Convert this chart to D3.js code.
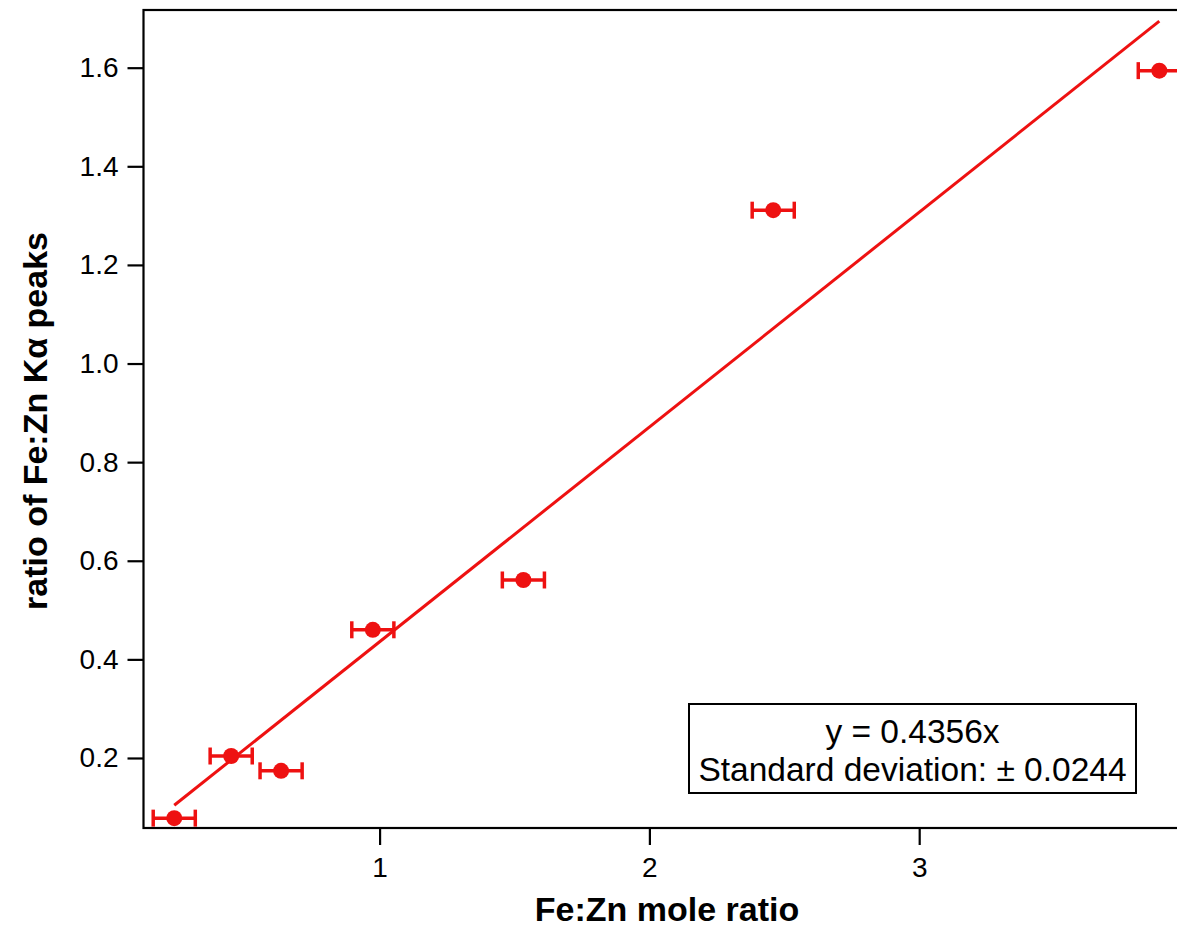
<html>
<head>
<script src="https://cdn.jsdelivr.net/npm/d3@7"></script>
<style type="text/css">
    body{ margin: 0; background: #fff }
    svg{ font-family: Arial, "Liberation Sans", sans-serif }
    .tick text{ font-size: 28px; fill: #000 }
    .axis-title{ font-size: 34px; font-weight: bold }
</style>
</head>

<body>
<script type="text/javascript">
var width = 1177,
    height = 928;

// Fe:Zn mole ratio, measured peak ratio, x error
var moleRatio = [0.239, 0.450, 0.635, 0.975, 1.533, 2.459, 3.890];
var peakRatio = [0.078, 0.204, 0.174, 0.460, 0.561, 1.311, 1.594];
var moleErr   = [0.078, 0.078, 0.078, 0.078, 0.078, 0.078, 0.078];

var xTicks = [1, 2, 3];
var yTicks = [0.2, 0.4, 0.6, 0.8, 1.0, 1.2, 1.4, 1.6];

var slope = 0.4356;
var legendLines = ['y = 0.4356x', 'Standard deviation: \u00b1 0.0244'];

var red = '#ee1111';

var x = d3.scaleLinear().domain([0.125, 4.0]).range([143.5, 1189]);
var y = d3.scaleLinear().domain([0.058, 1.717]).range([828, 10]);

var svg = d3.select('body')
    .append('svg')
        .attr('width', width)
        .attr('height', height);

// frame
svg.append('rect')
    .attr('x', x.range()[0])
    .attr('y', y.range()[1])
    .attr('width', x.range()[1] - x.range()[0])
    .attr('height', y.range()[0] - y.range()[1])
    .attr('fill', 'none')
    .attr('stroke', '#000')
    .attr('stroke-width', 2.2);

var xAxis = svg.append('g')
    .attr('transform', 'translate(0,' + y.range()[0] + ')')
    .call(d3.axisBottom(x).tickValues(xTicks).tickFormat(d3.format('d')).tickSize(17).tickPadding(12));

var yAxis = svg.append('g')
    .attr('transform', 'translate(' + x.range()[0] + ',0)')
    .call(d3.axisLeft(y).tickValues(yTicks).tickFormat(d3.format('.1f')).tickSize(16).tickPadding(9));

[xAxis, yAxis].forEach(function(a){
    a.select('.domain').remove();
    a.selectAll('.tick line').attr('stroke', '#000').attr('stroke-width', 2.2);
});

svg.append('text')
    .attr('class', 'axis-title')
    .attr('x', 667)
    .attr('y', 921)
    .attr('text-anchor', 'middle')
    .text('Fe:Zn mole ratio');

svg.append('text')
    .attr('class', 'axis-title')
    .attr('transform', 'translate(47,421) rotate(-90)')
    .attr('text-anchor', 'middle')
    .text('ratio of Fe:Zn K\u03b1 peaks');

// fit line
var xs = d3.extent(moleRatio);
svg.append('line')
    .attr('x1', x(xs[0])).attr('y1', y(slope * xs[0]))
    .attr('x2', x(xs[1])).attr('y2', y(slope * xs[1]))
    .attr('stroke', red)
    .attr('stroke-width', 3);

var pts = moleRatio.map(function(d, i){ return {x: d, y: peakRatio[i], e: moleErr[i]}; });

var g = svg.append('g').selectAll('g')
    .data(pts)
    .enter()
    .append('g');

g.append('line')
    .attr('x1', function(d){ return x(d.x - d.e); })
    .attr('x2', function(d){ return x(d.x + d.e); })
    .attr('y1', function(d){ return y(d.y); })
    .attr('y2', function(d){ return y(d.y); })
    .attr('stroke', red).attr('stroke-width', 3.5);

[-1, 1].forEach(function(s){
    g.append('line')
        .attr('x1', function(d){ return x(d.x + s * d.e); })
        .attr('x2', function(d){ return x(d.x + s * d.e); })
        .attr('y1', function(d){ return y(d.y) - 8.5; })
        .attr('y2', function(d){ return y(d.y) + 8.5; })
        .attr('stroke', red).attr('stroke-width', 3.5);
});

g.append('circle')
    .attr('cx', function(d){ return x(d.x); })
    .attr('cy', function(d){ return y(d.y); })
    .attr('r', 8)
    .attr('fill', red);

// legend box
var lg = svg.append('g');
lg.append('rect')
    .attr('x', 689).attr('y', 704)
    .attr('width', 447).attr('height', 89)
    .attr('fill', '#fff')
    .attr('stroke', '#000')
    .attr('stroke-width', 2);

lg.selectAll('text')
    .data(legendLines)
    .enter()
    .append('text')
        .attr('x', 912.5)
        .attr('y', function(d, i){ return 743 + i * 38; })
        .attr('text-anchor', 'middle')
        .style('font-size', '33.5px')
        .text(function(d){ return d; });
</script>
</body>
</html>
